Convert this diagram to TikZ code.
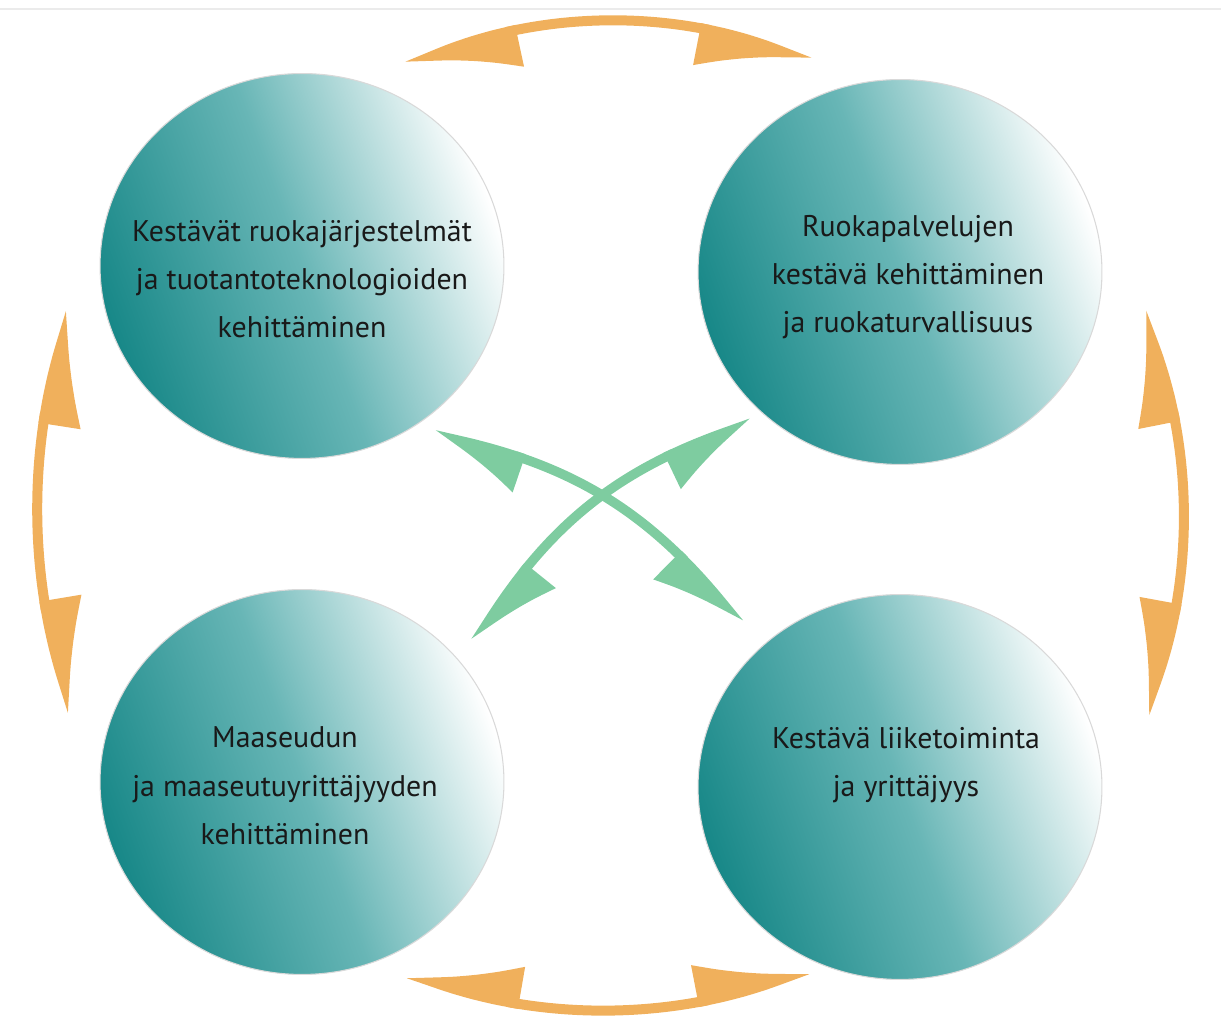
\documentclass[tikz,border=0pt]{standalone}
\usepackage{fontspec}
\setmainfont{PT Sans}
\usetikzlibrary{arrows.meta,bending,shapes.geometric}

\definecolor{tealdark}{RGB}{24,136,136}
\definecolor{tealmid}{RGB}{104,182,182}
\definecolor{orangearrow}{RGB}{240,176,92}
\definecolor{greenarrow}{RGB}{126,204,160}

\tikzset{
  bubble/.style={ellipse, minimum width=8.08cm, minimum height=7.7cm, inner sep=0pt,
    draw=black!15, line width=0.6pt,
    left color=tealdark, right color=white, middle color=tealmid, shading angle=110},
  caption/.style={align=center, font=\fontsize{17}{27.5}\selectfont, text=black!90},
  % heads flare to the inner side of the bend
  outerleft/.style={orangearrow, line width=0.2cm,
    {Triangle[harpoon,length=2cm,width=1.45cm,bend]}-{Triangle[harpoon,swap,length=2cm,width=1.45cm,bend]}},
  outerright/.style={orangearrow, line width=0.2cm,
    {Triangle[harpoon,swap,length=2cm,width=1.45cm,bend]}-{Triangle[harpoon,length=2cm,width=1.45cm,bend]}},
  innerarrow/.style={greenarrow, line width=0.19cm,
    {Triangle[harpoon,length=1.75cm,width=1.35cm,bend]}-{Triangle[harpoon,swap,length=1.75cm,width=1.35cm,bend]}}
}

\begin{document}
\begin{tikzpicture}[x=0.02cm, y=-0.02cm]
    \useasboundingbox (0,0) rectangle (1221,1026);
    \draw[black!8, line width=0.8pt] (0,9) -- (1221,9);

    % The four circles
    \node[bubble] (food) at (302,266) {};
    \node[bubble] (service) at (900,272) {};
    \node[bubble] (rural) at (302,782) {};
    \node[bubble] (business) at (900,787) {};

    % Circle texts
    \node[caption] (foodtxt) at (302,279) {Kestävät ruokajärjestelmät\\ ja tuotantoteknologioiden\\ kehittäminen};
    \node[caption] (servicetxt) at (908,277) {Ruokapalvelujen\\ kestävä kehittäminen\\ ja ruokaturvallisuus};
    \node[caption] (ruraltxt) at (285,786) {Maaseudun\\ ja maaseutuyrittäjyyden\\ kehittäminen};
    \node[caption] (businesstxt) at (906,765) {Kestävä liiketoiminta\\ ja yrittäjyys};

    % Arrow end points
    \coordinate (topL) at (407,68);
    \coordinate (topR) at (810,64);
    \coordinate (botL) at (408,972);
    \coordinate (botR) at (808,968);
    \coordinate (leftT) at (72,312);
    \coordinate (leftB) at (74,712);
    \coordinate (rightT) at (1140,312);
    \coordinate (rightB) at (1143,714);
    \coordinate (crossA) at (433,435);
    \coordinate (crossB) at (740,625);
    \coordinate (crossC) at (475,643);
    \coordinate (crossD) at (753,423);

    % Outer arrows
    \draw[outerleft] (topL) to[bend left=27, looseness=0.85] (topR);
    \draw[outerright] (botL) to[bend right=24, looseness=0.85] (botR);
    \draw[outerright] (leftT) to[bend right=21, looseness=0.85] (leftB);
    \draw[outerleft] (rightT) to[bend left=25, looseness=0.85] (rightB);

    % Crossing arrows
    \draw[innerarrow] (crossA) to[bend left=21] (crossB);
    \draw[innerarrow] (crossC) to[bend left=21] (crossD);
\end{tikzpicture}
\end{document}
